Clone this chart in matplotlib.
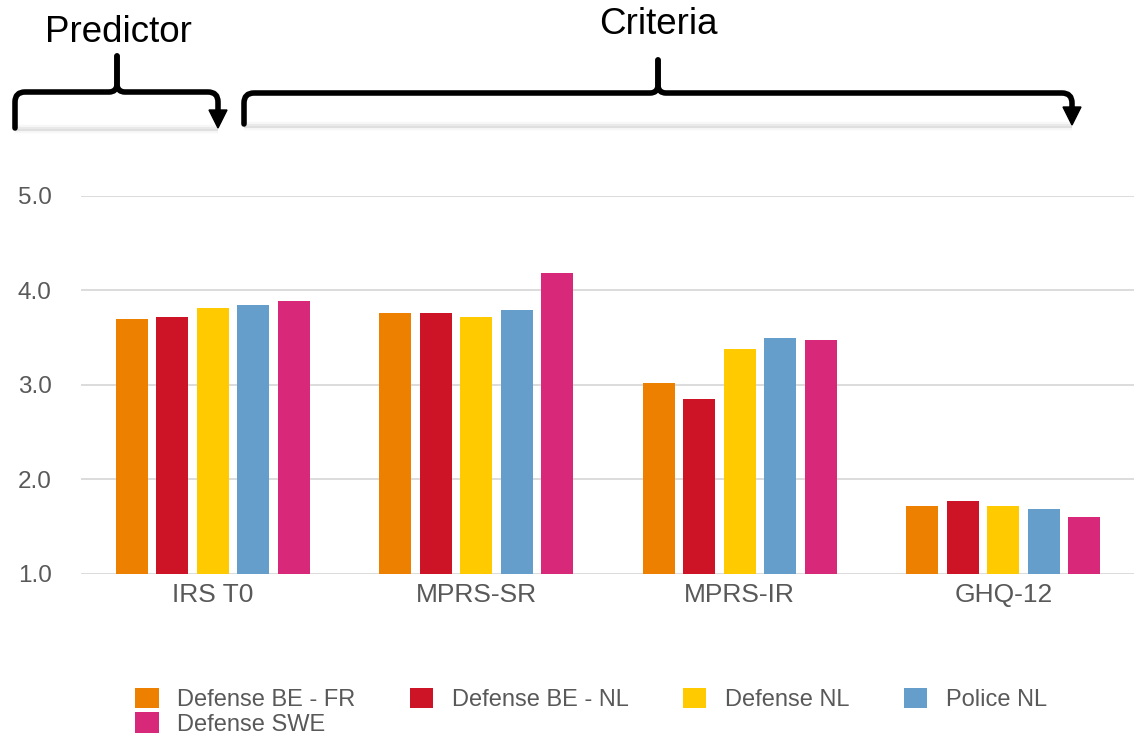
"""
Grouped bar chart of mean scale scores per sample, with predictor/criteria braces.
"""

import numpy as np
import matplotlib
matplotlib.use('Agg')
import matplotlib.pyplot as plt
from matplotlib.path import Path
from matplotlib.patches import PathPatch, Polygon

plt.rcParams['font.family'] = ['Liberation Sans', 'DejaVu Sans']

###

categories = ['IRS T0', 'MPRS-SR', 'MPRS-IR', 'GHQ-12']
groups = ['Defense BE - FR', 'Defense BE - NL', 'Defense NL', 'Police NL', 'Defense SWE']
colors = ['#EE8000', '#CC1426', '#FFCA00', '#669ECB', '#D8287A']

defense_be_fr = [3.70, 3.755, 3.02, 1.71]
defense_be_nl = [3.72, 3.755, 2.85, 1.77]
defense_nl = [3.81, 3.72, 3.38, 1.71]
police_nl = [3.84, 3.79, 3.50, 1.68]
defense_swe = [3.89, 4.18, 3.47, 1.60]
series = [defense_be_fr, defense_be_nl, defense_nl, police_nl, defense_swe]

y_ticks = [1.0, 2.0, 3.0, 4.0, 5.0]

W, H = 1134, 735
fig = plt.figure(figsize=(W / 100, H / 100), dpi=100)


def px(x0, y0, x1, y1):
    """Pixel box (top-left origin) to figure fraction rect."""
    return [x0 / W, 1 - y1 / H, (x1 - x0) / W, (y1 - y0) / H]


ax = fig.add_axes(px(81, 196, 1135, 573.5))
x = np.arange(len(categories))
pitch = 0.1537
width = 0.1214
bars = []
for i, (vals, c, name) in enumerate(zip(series, colors, groups)):
    b = ax.bar(x + (i - 2) * pitch, np.array(vals) - 1.0, width, bottom=1.0,
               color=c, label=name, zorder=3)
    bars.append(b)

ax.set_xlim(-0.5, 3.5)
ax.set_ylim(1, 5)
ax.set_yticks(y_ticks)
ax.set_yticklabels(['%.1f' % v for v in y_ticks])
ax.set_xticks(x)
ax.set_xticklabels(categories)
ax.grid(axis='y', color='#d9d9d9', linewidth=1.3, zorder=0)
ax.tick_params(axis='y', length=0, pad=21, labelsize=17.5, labelcolor='#595959')
ax.tick_params(axis='x', length=0, pad=7, labelsize=19, labelcolor='#595959')
for s in ax.spines.values():
    s.set_visible(False)

# legend fills column by column, so reorder to read left-to-right
order = [0, 4, 1, 2, 3]
fig.legend([bars[k] for k in order], [groups[k] for k in order],
           loc='upper left', bbox_to_anchor=(135 / W, 1 - 688 / H),
           ncol=4, frameon=False, fontsize=17, labelcolor='#595959',
           handlelength=1.0, handleheight=0.95, handletextpad=0.78,
           columnspacing=2.3, labelspacing=0.05, borderpad=0, borderaxespad=0)

# overlay in pixel coordinates for the braces
ov = fig.add_axes([0, 0, 1, 1], zorder=5)
ov.set_xlim(0, W)
ov.set_ylim(H, 0)
ov.axis('off')


def brace(x0, x1, cx, y, top, bottom_l, arrow_top, arrow_tip, r=10, rc=8):
    # soft shadow under the brace
    for off, a, lw in [(1, 0.06, 6), (1, 0.10, 3), (2, 0.10, 1.5)]:
        ov.plot([x0, x1], [arrow_tip + off, arrow_tip + off], color='#808080',
                alpha=a, lw=lw, solid_capstyle='butt', zorder=1)
    left = Path([(x0, bottom_l), (x0, y + r), (x0, y), (x0 + r, y),
                 (cx - rc, y), (cx, y), (cx, y - rc), (cx, top)],
                [Path.MOVETO, Path.LINETO, Path.CURVE3, Path.CURVE3,
                 Path.LINETO, Path.CURVE3, Path.CURVE3, Path.LINETO])
    right = Path([(cx, top), (cx, y - rc), (cx, y), (cx + rc, y),
                  (x1 - r, y), (x1, y), (x1, y + r), (x1, arrow_top + 1)],
                 [Path.MOVETO, Path.LINETO, Path.CURVE3, Path.CURVE3,
                  Path.LINETO, Path.CURVE3, Path.CURVE3, Path.LINETO])
    for p in (left, right):
        ov.add_patch(PathPatch(p, fill=False, lw=4.0, color='black',
                               capstyle='round', joinstyle='round', zorder=3))
    ov.add_patch(Polygon([(x1 - 9, arrow_top), (x1 + 9, arrow_top), (x1, arrow_tip)],
                         closed=True, color='black', zorder=3))


brace(15, 218, 117, 92, 56, 128, 110, 128)
brace(244, 1072, 658, 93, 60, 124, 107, 125)

fig.text(118.5 / W, 1 - 42 / H, 'Predictor', fontsize=26.5, ha='center', va='baseline')
fig.text(658 / W, 1 - 34 / H, 'Criteria', fontsize=26.5, ha='center', va='baseline')

fig.savefig('out.png', dpi=100)
